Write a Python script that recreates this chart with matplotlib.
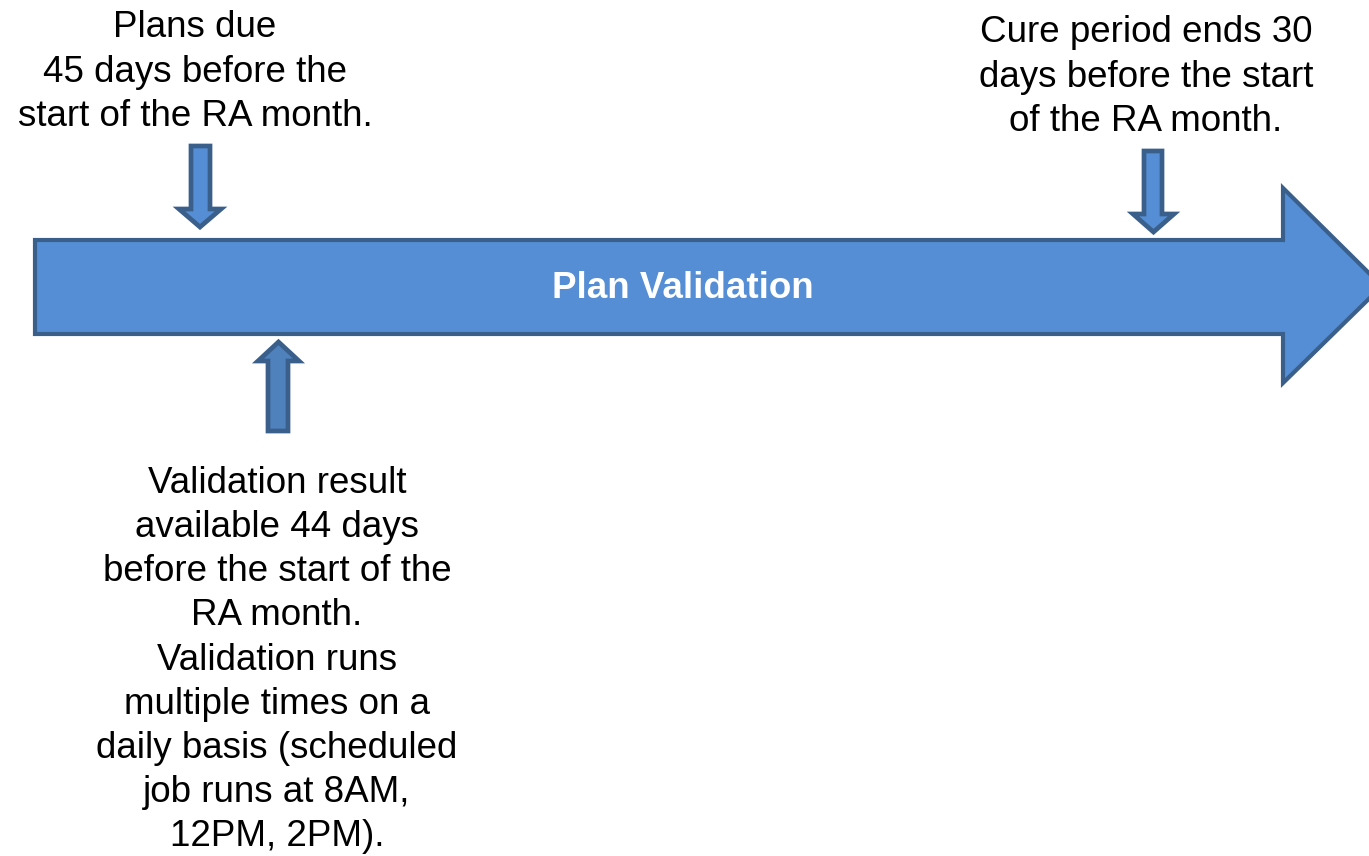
import matplotlib
matplotlib.use("Agg")
import matplotlib.pyplot as plt
from matplotlib.patches import Polygon

# ---- content ----
main_label = "Plan Validation"
callout_texts = [
    "Plans due\n45 days before the\nstart of the RA month.",
    "Cure period ends 30\ndays before the start\nof the RA month.",
    "Validation result\navailable 44 days\nbefore the start of the\nRA month.\nValidation runs\nmultiple times on a\ndaily basis (scheduled\njob runs at 8AM,\n12PM, 2PM).",
]

FILL = "#558ED5"
FILL2 = "#4F81BD"
EDGE = "#3A5F8B"
FONT = "Liberation Sans"
LS = 1.34

W, H = 1369, 856
fig = plt.figure(figsize=(W / 100, H / 100), dpi=100)
ax = fig.add_axes([0, 0, 1, 1])
ax.set_xlim(0, W)
ax.set_ylim(H, 0)
ax.axis("off")

# big block arrow
big = [(35, 240), (1283, 240), (1283, 188), (1382, 286), (1283, 383),
       (1283, 334), (35, 334)]
ax.add_patch(Polygon(big, closed=True, facecolor=FILL, edgecolor=EDGE,
                     linewidth=3, joinstyle="miter"))


def down_arrow(x0, x1, hx0, hx1, ytop, yhead, ytip, fc):
    cx = (hx0 + hx1) / 2
    pts = [(x0, ytop), (x1, ytop), (x1, yhead), (hx1, yhead), (cx, ytip),
           (hx0, yhead), (x0, yhead)]
    ax.add_patch(Polygon(pts, closed=True, facecolor=fc, edgecolor=EDGE,
                         linewidth=3.4, joinstyle="miter"))


down_arrow(191, 210, 179, 221, 146, 209, 227, FILL)
down_arrow(1144, 1162, 1133, 1174, 151, 214, 232, FILL)
# up arrow (tip at top)
down_arrow(268, 288, 258, 299, 431, 361, 342, FILL2)

ax.text(683, 289, main_label, ha="center", va="center", color="white",
        fontsize=26.5, fontweight="bold", family=FONT)

ax.text(195, 72, callout_texts[0], ha="center", va="center", color="black",
        fontsize=26.5, family=FONT, linespacing=LS)
ax.text(1146, 77, callout_texts[1], ha="center", va="center", color="black",
        fontsize=26.5, family=FONT, linespacing=LS)
ax.text(277, 660, callout_texts[2], ha="center", va="center", color="black",
        fontsize=26.5, family=FONT, linespacing=LS)

fig.savefig("out.png", dpi=100)
